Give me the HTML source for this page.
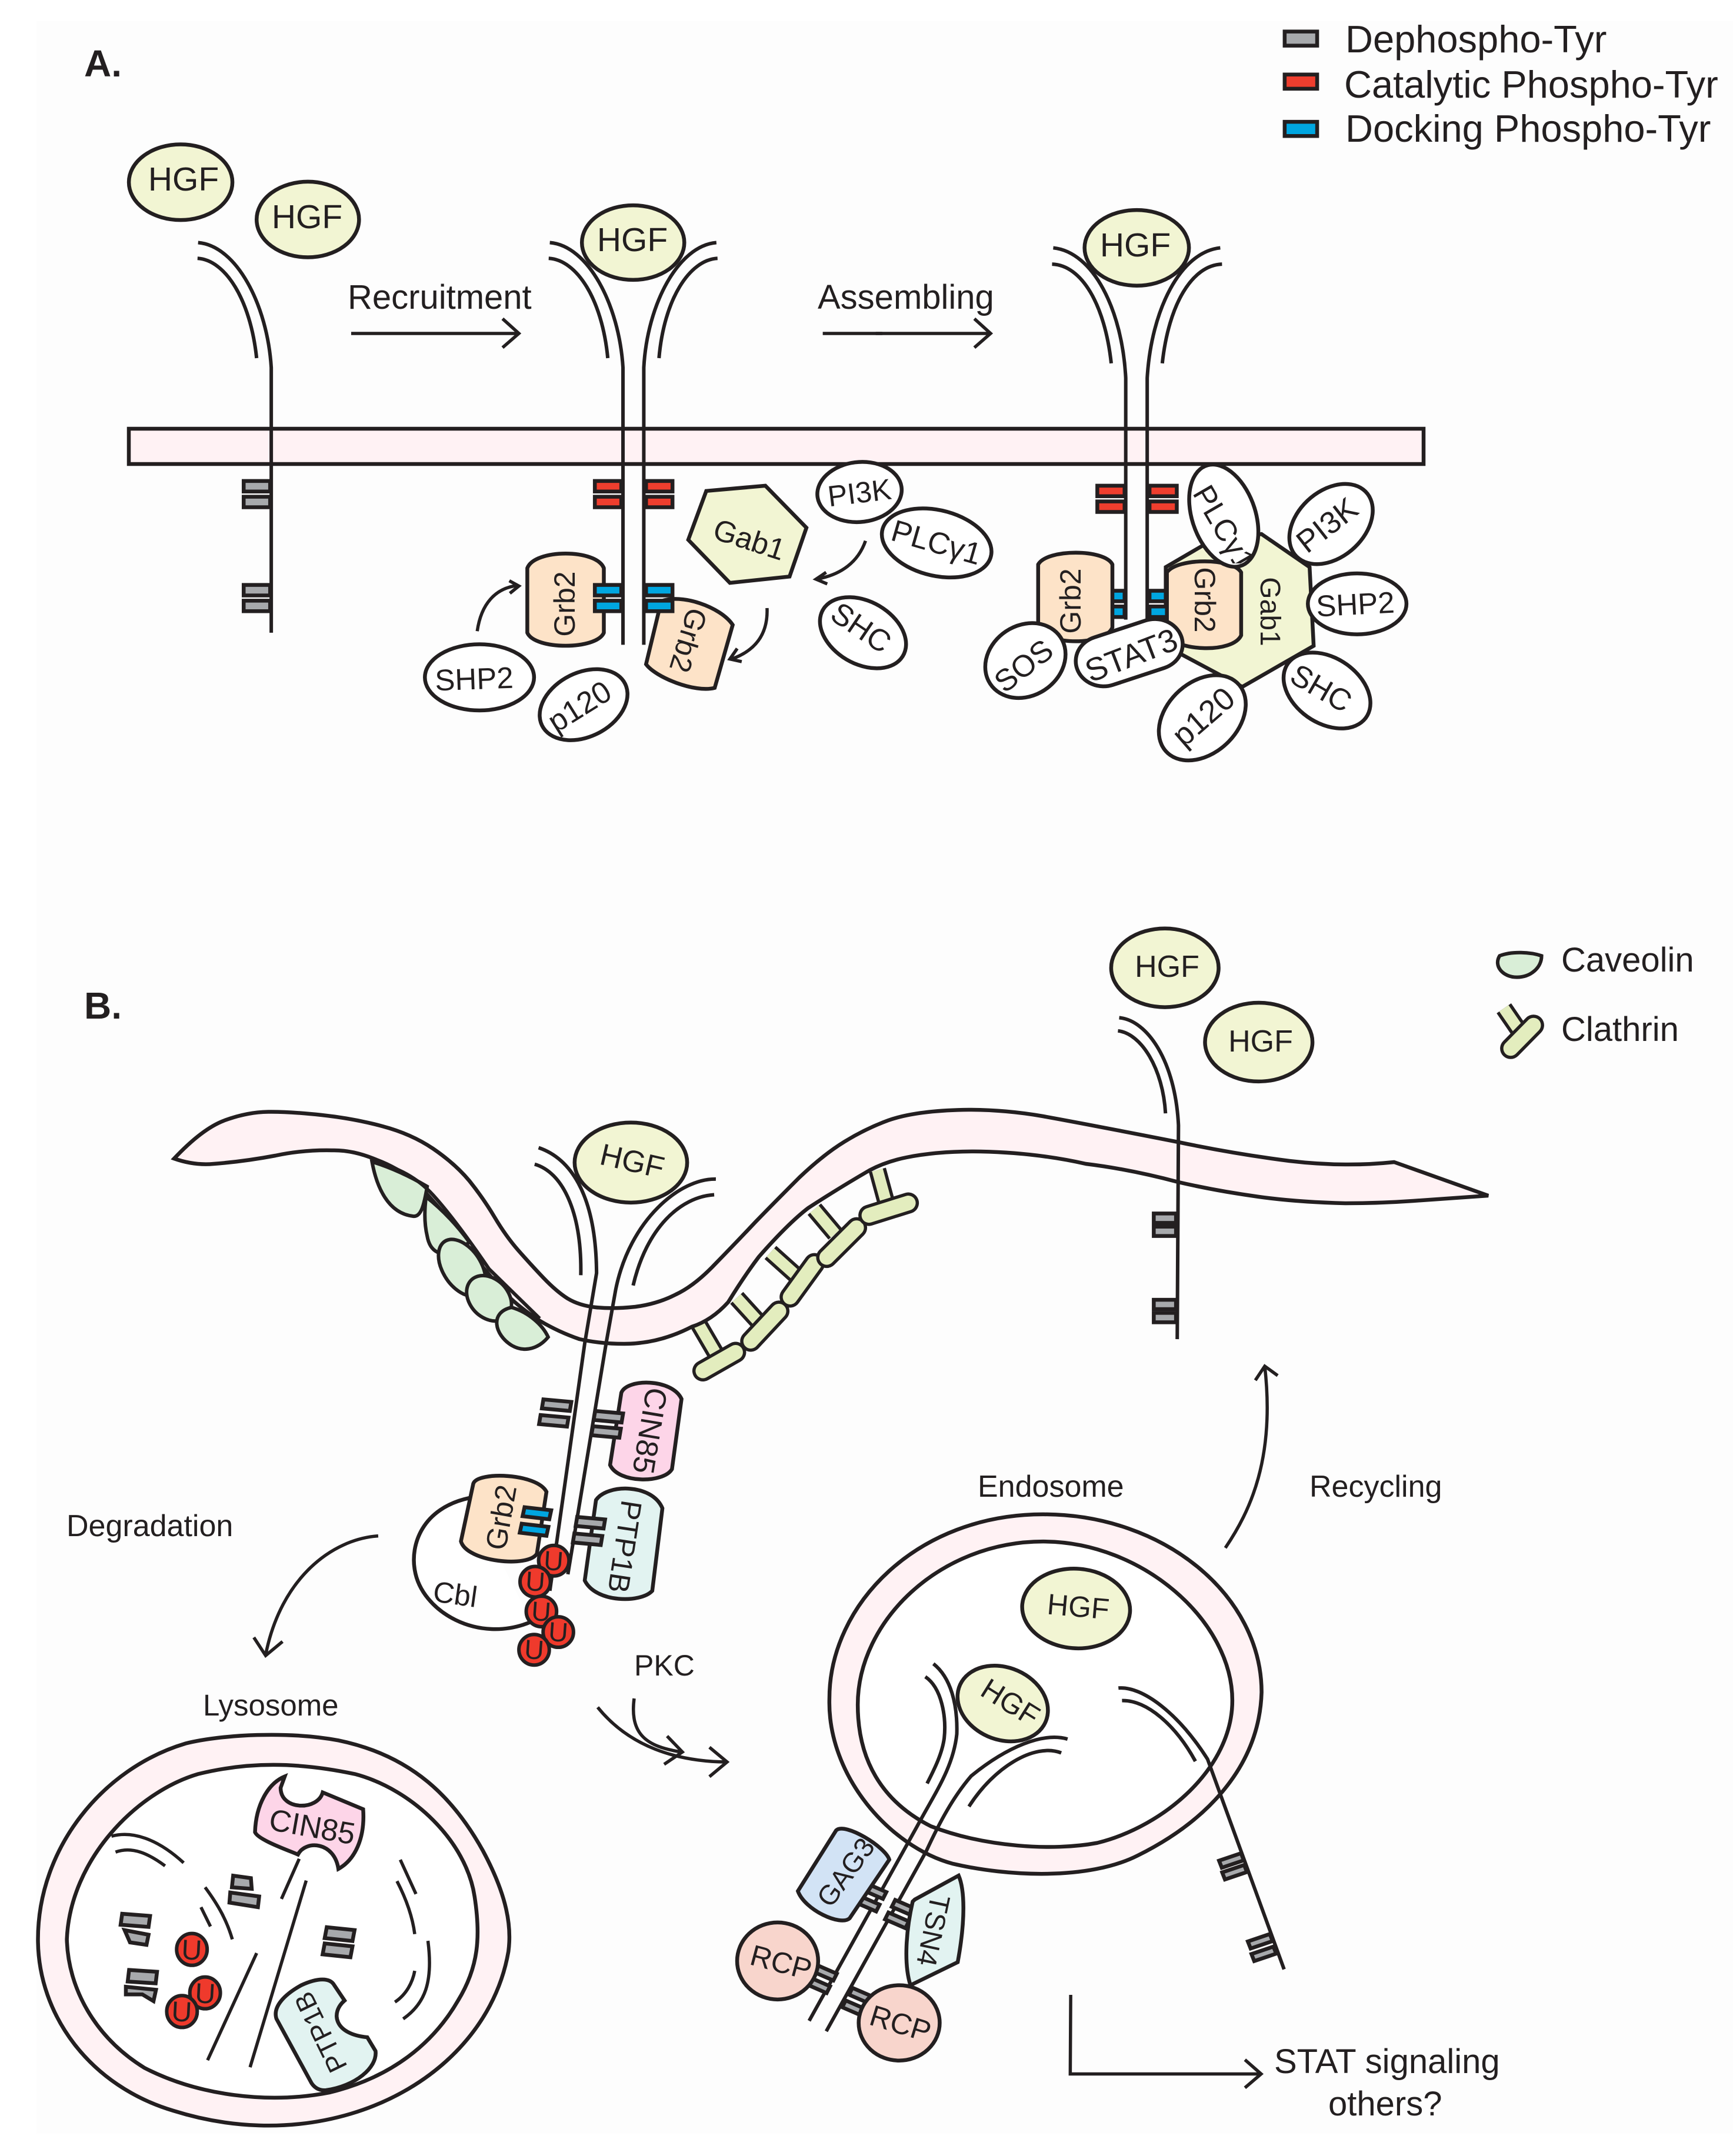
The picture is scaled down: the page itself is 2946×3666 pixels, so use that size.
<!DOCTYPE html>
<html><head><meta charset="utf-8"><style>
html,body{margin:0;padding:0;background:#fff}
svg{display:block;font-family:"Liberation Sans",Arial,sans-serif}
svg *{vector-effect:non-scaling-stroke}
text{fill:#231f20;text-anchor:middle}
.l{text-anchor:start}
.n{fill:none;stroke:#231f20;stroke-width:6}
.a{fill:none;stroke:#231f20;stroke-width:5.5}
.h{fill:#f2f5d3;stroke:#231f20;stroke-width:6.5}
.w{fill:#fff;stroke:#231f20;stroke-width:6.5}
.g2{fill:#fde3c8;stroke:#231f20;stroke-width:6.5}
.m{fill:#fff2f4;stroke:#231f20;stroke-width:6.5}
.gy{fill:#a7a9ac;stroke:#231f20;stroke-width:6.5}
.rd{fill:#ef3e2e;stroke:#231f20;stroke-width:6.5}
.bl{fill:#00a6e0;stroke:#231f20;stroke-width:6.5}
.u{fill:#ef3a2c;stroke:#231f20;stroke-width:6}
.cv{fill:#d9eed7;stroke:#231f20;stroke-width:6}
.pb{fill:none;stroke:#231f20;stroke-width:36;stroke-linecap:round}
.pf{fill:none;stroke:#e3edbe;stroke-width:25;stroke-linecap:round}
.sb{fill:none;stroke:#231f20;stroke-width:30}
.sf{fill:none;stroke:#e3edbe;stroke-width:19}
.ci{fill:#fdd5e8;stroke:#231f20;stroke-width:6.5}
.pt{fill:#e2f3f1;stroke:#231f20;stroke-width:6.5}
.ga{fill:#d2e3f5;stroke:#231f20;stroke-width:6.5}
.rc{fill:#f8d5cc;stroke:#231f20;stroke-width:6.5}
</style></head><body>
<svg xmlns="http://www.w3.org/2000/svg" width="2946" height="3666" viewBox="0 0 2946 3666">
<defs><clipPath id="pc"><rect x="1990" y="780" width="220" height="178"/></clipPath></defs>
<rect width="2946" height="3666" fill="#fff"/>
<rect x="62" y="36" width="2884" height="3592" fill="#fdfdfd"/>

<!-- A membrane -->
<rect x="219" y="729" width="2201" height="60" class="m"/>

<!-- Z1 group -->
<g transform="translate(0 0) scale(0.95666 0.89286)">
<path class="n" d="M352 462C420 468 475 580 482 700L482 1205"/>
<path class="n" d="M351 492C400 495 445 570 456 682"/>
<path class="n" d="M977 462C1045 468 1100 580 1107 700L1107 1228"/>
<path class="n" d="M975 492C1025 495 1070 570 1080 682"/>
<path class="n" d="M1273 462C1205 468 1150 580 1144 700L1144 1228"/>
<path class="n" d="M1275 492C1225 495 1180 570 1171 682"/>
<ellipse class="h" cx="321" cy="347" rx="92" ry="72"/>
<ellipse class="h" cx="547" cy="418" rx="91" ry="72"/>
<ellipse class="h" cx="1125" cy="462" rx="91" ry="71"/>
<rect class="gy" x="433" y="916" width="47" height="20"/><rect class="gy" x="433" y="946" width="47" height="20"/>
<rect class="gy" x="433" y="1114" width="47" height="20"/><rect class="gy" x="433" y="1144" width="47" height="20"/>
<rect class="rd" x="1057" y="916" width="47" height="20"/><rect class="rd" x="1057" y="946" width="47" height="20"/>
<rect class="rd" x="1148" y="916" width="47" height="20"/><rect class="rd" x="1148" y="946" width="47" height="20"/>
<path class="g2" d="M937 1082C950 1045 1060 1045 1073 1082L1073 1205C1060 1238 950 1238 937 1205Z"/>
<path class="g2" d="M1175 1145C1210 1130 1280 1155 1302 1190L1270 1310C1235 1320 1165 1290 1148 1265Z"/>
<rect class="bl" x="1057" y="1114" width="47" height="20"/><rect class="bl" x="1057" y="1144" width="47" height="20"/>
<rect class="bl" x="1148" y="1114" width="47" height="20"/><rect class="bl" x="1148" y="1144" width="47" height="20"/>
<ellipse class="w" cx="852" cy="1290" rx="97" ry="63"/>
<ellipse class="w" cx="1037" cy="1342" rx="84" ry="60" transform="rotate(-32 1037 1342)"/>
<polygon class="h" points="1255,935 1360,925 1433,1005 1403,1098 1297,1110 1223,1028"/>
<path class="a" d="M848 1202C855 1150 880 1120 920 1115"/><path class="a" d="M905 1106L922 1116L906 1130"/>
<path class="a" d="M1363 1158C1365 1210 1340 1240 1300 1255"/><path class="a" d="M1310 1235L1297 1255L1318 1260"/>
<path class="a" d="M1538 1030C1525 1070 1495 1095 1450 1103"/><path class="a" d="M1468 1090L1450 1103L1470 1112"/>
<path class="a" d="M624 635L922 635M893 607L922 635L893 662"/>
<path class="a" d="M1462 635L1568 635"/>
</g>

<!-- Z2 group -->
<g transform="translate(1400 0) scale(0.98597 0.89286)">
<rect class="gy" x="795" y="60" width="56" height="27"/>
<rect class="rd" x="795" y="142" width="56" height="27"/>
<rect class="bl" x="795" y="232" width="56" height="27"/>
<path class="a" d="M90 635L288 635M260 607L288 635L260 662"/>
<path class="n" d="M396 472C465 480 515 590 521 720L521 1180"/>
<path class="n" d="M394 503C445 505 485 580 496 692"/>
<path class="n" d="M684 472C615 480 565 590 558 720L558 1180"/>
<path class="n" d="M687 503C635 505 595 580 584 692"/>
<ellipse class="h" cx="540" cy="472" rx="90" ry="72"/>
<rect class="rd" x="472" y="925" width="47" height="20"/><rect class="rd" x="472" y="955" width="47" height="20"/>
<rect class="rd" x="562" y="925" width="47" height="20"/><rect class="rd" x="562" y="955" width="47" height="20"/>
<rect class="bl" x="472" y="1125" width="47" height="20"/><rect class="bl" x="472" y="1155" width="47" height="20"/>
<rect class="bl" x="562" y="1125" width="47" height="20"/><rect class="bl" x="562" y="1155" width="47" height="20"/>
<ellipse class="w" cx="62" cy="937" rx="73" ry="57" transform="rotate(-8 62 937)"/>
<ellipse class="w" cx="195" cy="1034" rx="97" ry="62" transform="rotate(17 195 1034)"/>
<ellipse class="w" cx="68" cy="1205" rx="82" ry="58" transform="rotate(37 68 1205)"/>
<polygon class="h" points="590,1080 660,1035 755,1017 838,1080 845,1230 722,1308 615,1245 590,1150"/>
<path class="g2" d="M370 1075C385 1045 485 1045 498 1075L498 1195C485 1230 385 1230 370 1195Z"/>
<path class="g2" d="M592 1090C610 1062 705 1062 720 1090L720 1210C705 1245 610 1240 592 1210Z"/>
<ellipse class="w" cx="690" cy="982" rx="55" ry="100" transform="rotate(-16 690 982)"/>
<ellipse class="w" cx="875" cy="998" rx="86" ry="60" transform="rotate(-50 875 998)"/>
<ellipse class="w" cx="920" cy="1150" rx="85" ry="58"/>
<ellipse class="w" cx="868" cy="1315" rx="85" ry="60" transform="rotate(42 868 1315)"/>
<ellipse class="w" cx="653" cy="1367" rx="90" ry="64" transform="rotate(-52 653 1367)"/>
<ellipse class="w" cx="348" cy="1258" rx="76" ry="64" transform="rotate(-50 348 1258)"/>
<rect class="w" x="432" y="1195" width="190" height="96" rx="48" ry="48" transform="rotate(-20 527 1243)"/>
</g>

<!-- B stems under membrane -->
<g transform="translate(200 1800) scale(0.95666 0.70151)">
<path class="sb" d="M1033 645L1063 715M1100 580L1140 640M1160 470L1205 525M1238 365L1275 425M1350 270L1365 345"/>
<path class="sf" d="M1033 645L1063 715M1100 580L1140 640M1160 470L1205 525M1238 365L1275 425M1350 270L1365 345"/>
</g>

<!-- B membrane -->
<path class="m" d="M296 1970Q344 1919 382 1905Q420 1891 456 1890.5Q492 1890 547 1896Q602 1902 650 1915Q699 1928 736 1953Q774 1979 798 2008Q822 2038 841 2070Q860 2102 881 2126Q903 2151 924 2173Q946 2196 965 2208Q985 2220 1013 2223Q1042 2226 1080 2222Q1118 2217 1149 2201Q1181 2186 1216 2149Q1252 2112 1285 2077Q1319 2042 1359 2002Q1400 1963 1436 1941Q1472 1919 1510 1905Q1558 1888 1647 1887Q1710 1887 1773 1898Q1850 1912 2003 1942Q2098 1962 2192 1974Q2285 1985 2370 1976L2530 2033L2402 2042Q2345 2046 2287 2046Q2205 2044 2140 2035Q2068 2025 2003 2010Q1920 1988 1846 1979Q1762 1960 1667 1958Q1596 1957 1541 1968Q1506 1975 1478 1990Q1423 2022 1374 2054Q1340 2080 1290 2137Q1265 2170 1238 2214Q1210 2245 1176 2256Q1120 2285 1061 2285Q1020 2285 985 2277Q950 2265 918 2246Q885 2225 860 2200Q835 2172 812 2144Q788 2110 764 2074Q735 2040 707 2010Q675 1985 640 1972Q600 1955 564 1956Q515 1955 468 1965Q415 1975 363 1979Q330 1982 296 1970Z"/>

<!-- Z3 group -->
<g transform="translate(200 1800) scale(0.95666 0.70151)">
<path class="cv" d="M452 250Q500 270 550 310C545 350 540 385 525 382C480 375 460 310 452 250Z"/>
<path class="cv" d="M548 335Q590 380 625 445L600 470C575 480 555 470 550 430Q543 390 548 335Z"/>
<ellipse class="cv" cx="612" cy="507" rx="36" ry="72" transform="rotate(-20 612 507)"/>
<ellipse class="cv" cx="660" cy="581" rx="37" ry="57" transform="rotate(-20 660 581)"/>
<path class="cv" d="M700 603C730 615 755 645 765 675C750 700 725 715 700 695C670 670 660 615 700 603Z"/>
<path class="n" d="M455 250Q520 270 560 330T660 510L750 630"/>
<path class="pb" d="M1040 757L1098 712"/><path class="pf" d="M1040 757L1098 712"/>
<path class="pb" d="M1125 685L1175 612"/><path class="pf" d="M1125 685L1175 612"/>
<path class="pb" d="M1195 578L1238 497"/><path class="pf" d="M1195 578L1238 497"/>
<path class="pb" d="M1260 482L1313 410"/><path class="pf" d="M1260 482L1313 410"/>
<path class="pb" d="M1335 380L1405 350"/><path class="pf" d="M1335 380L1405 350"/>
<path class="n" d="M748 216C800 240 850 320 851 520L830 690L768 1290"/>
<path class="n" d="M741 256C790 275 825 370 823 525"/>
<path class="n" d="M1063 292C1000 290 910 390 885 560L868 690L800 1250"/>
<path class="n" d="M1060 330C1000 335 940 410 916 550"/>
<ellipse class="h" cx="912" cy="252" rx="100" ry="97"/>
<path class="ci" d="M895 810C905 775 985 775 1002 825L985 995C970 1030 890 1030 875 985Z"/>
<path class="pt" d="M850 1070C870 1030 950 1030 968 1090L950 1290C930 1320 850 1320 830 1265Z"/>
<path class="w" d="M625 1065C540 1090 520 1180 528 1240C540 1340 640 1420 735 1365"/>
<path class="g2" d="M632 1030C640 1000 745 1005 762 1050L745 1200C730 1235 620 1220 610 1170Z"/>
<rect class="gy" x="755" y="829" width="50" height="22" transform="rotate(7 780 840)"/>
<rect class="gy" x="750" y="867" width="50" height="22" transform="rotate(7 775 878)"/>
<rect class="gy" x="847" y="857" width="50" height="22" transform="rotate(7 872 868)"/>
<rect class="gy" x="843" y="894" width="50" height="22" transform="rotate(7 868 905)"/>
<rect class="bl" x="721" y="1091" width="48" height="22" transform="rotate(9 745 1102)"/>
<rect class="bl" x="716" y="1131" width="48" height="22" transform="rotate(9 740 1142)"/>
<rect class="gy" x="815" y="1114" width="50" height="22" transform="rotate(7 840 1125)"/>
<rect class="gy" x="810" y="1154" width="50" height="22" transform="rotate(7 835 1165)"/>
<ellipse class="u" cx="775" cy="1217" rx="27" ry="37"/>
<ellipse class="u" cx="742" cy="1268" rx="27" ry="37"/>
<ellipse class="u" cx="753" cy="1340" rx="27" ry="37"/>
<ellipse class="u" cx="783" cy="1390" rx="27" ry="37"/>
<ellipse class="u" cx="740" cy="1433" rx="27" ry="37"/>
<path class="a" d="M463 1157C380 1165 290 1260 263 1445"/>
<path class="a" d="M242 1403L263 1447L293 1413"/>
</g>

<!-- Z4 group -->
<g transform="translate(1300 1550) scale(1.04975 0.63776)">
<path class="n" d="M574 283C620 290 665 400 670 570L668 1140"/>
<path class="n" d="M572 318C610 325 645 420 649 538"/>
<ellipse class="h" cx="648" cy="150" rx="87" ry="105"/>
<ellipse class="h" cx="800" cy="348" rx="87" ry="105"/>
<rect class="gy" x="630" y="805" width="36" height="25"/><rect class="gy" x="630" y="840" width="36" height="25"/>
<rect class="gy" x="630" y="1035" width="36" height="25"/><rect class="gy" x="630" y="1070" width="36" height="25"/>
<path class="cv" d="M1190 118C1210 105 1240 108 1258 118C1258 150 1240 175 1218 175C1195 175 1180 145 1190 118Z"/>
<path class="sb" d="M1197 258L1222 318"/><path class="sf" d="M1197 258L1222 318"/>
<path class="pb" d="M1208 365L1245 303"/><path class="pf" d="M1208 365L1245 303"/>
</g>

<path class="a" d="M2083 2632C2125 2570 2168 2480 2150 2323"/>
<path class="a" d="M2134 2347L2150 2323L2172 2339"/>
<path class="a" d="M1016 2903C1070 2970 1150 2995 1234 2996"/>
<path class="a" d="M1078 2888C1070 2950 1100 2970 1158 2979"/>
<path class="a" d="M1134 2952L1160 2979L1129 3000"/>
<path class="a" d="M1206 2971L1236 2996L1206 3021"/>

<!-- Z6 group -->
<g transform="translate(1100 2550) scale(0.76529 0.71174)">
<path class="m" d="M405 475C405 250 600 35 880 35C1150 35 1365 230 1365 460C1360 640 1240 770 1090 850C980 910 800 900 680 870C540 830 400 660 405 475Z"/>
<path class="w" d="M468 490C468 290 650 100 880 100C1100 100 1300 290 1300 480C1300 640 1150 780 1000 820C900 840 750 830 630 780C520 720 468 620 468 490Z"/>
<ellipse class="h" cx="953" cy="260" rx="120" ry="95" transform="rotate(5 953 260)"/>
<path class="n" d="M636 392C675 425 690 490 688 560C680 640 640 700 600 780L360 1245"/>
<path class="n" d="M618 423C655 450 665 520 660 570C655 610 635 650 622 678"/>
<path class="n" d="M934 572C880 555 800 590 720 660C680 710 650 770 620 840L398 1270"/>
<path class="n" d="M920 605C860 580 770 640 715 733"/>
<path class="n" d="M1047 450C1100 445 1180 510 1245 620L1415 1122"/>
<path class="n" d="M1055 480C1110 478 1175 540 1218 625"/>
<ellipse class="h" cx="790" cy="487" rx="105" ry="85" transform="rotate(30 790 487)"/>
<rect class="gy" x="1272" y="853" width="52" height="18" transform="rotate(-20 1298 862)"/>
<rect class="gy" x="1279" y="881" width="52" height="18" transform="rotate(-20 1305 890)"/>
<rect class="gy" x="1336" y="1046" width="52" height="18" transform="rotate(-20 1362 1055)"/>
<rect class="gy" x="1344" y="1076" width="52" height="18" transform="rotate(-20 1370 1085)"/>
<rect class="gy" x="480" y="926" width="50" height="18" transform="rotate(25 505 935)"/>
<rect class="gy" x="465" y="956" width="50" height="18" transform="rotate(25 490 965)"/>
<rect class="gy" x="545" y="966" width="50" height="18" transform="rotate(25 570 975)"/>
<rect class="gy" x="530" y="996" width="50" height="18" transform="rotate(25 555 1005)"/>
<rect class="gy" x="370" y="1121" width="50" height="18" transform="rotate(25 395 1130)"/>
<rect class="gy" x="355" y="1151" width="50" height="18" transform="rotate(25 380 1160)"/>
<rect class="gy" x="450" y="1176" width="50" height="18" transform="rotate(25 475 1185)"/>
<rect class="gy" x="435" y="1206" width="50" height="18" transform="rotate(25 460 1215)"/>
<path class="ga" d="M420 790C440 770 530 830 538 860L450 1000C430 1020 350 980 335 935Z"/>
<path class="pt" d="M595 955L692 898C705 930 708 1000 690 1105L585 1160C570 1110 575 1030 590 960Z"/>
<ellipse class="rc" cx="290" cy="1102" rx="90" ry="92"/>
<ellipse class="rc" cx="560" cy="1250" rx="90" ry="90"/>
<path class="a" d="M941 1183L940 1372L1362 1372M1328 1338L1364 1372L1328 1405"/>
</g>

<!-- Z5 group -->
<g transform="translate(0 2850) scale(0.70151 0.52041)">
<path class="m" d="M92 860C92 560 250 300 450 220C540 190 700 180 820 210C1000 260 1100 400 1170 570C1230 720 1240 820 1232 900C1200 1150 1050 1350 850 1430C700 1490 550 1475 420 1420C220 1340 92 1110 92 860Z"/>
<path class="w" d="M162 860C170 600 330 380 480 320C600 280 720 280 860 320C1000 370 1130 540 1150 720C1165 850 1160 950 1110 1060C1050 1200 950 1310 800 1360C650 1400 480 1370 350 1280C230 1180 165 1020 162 860Z"/>
<path class="a" d="M270 523C320 505 380 530 445 610M280 575C320 555 360 580 400 620M497 690C530 750 550 800 563 860M487 755L510 818M622 905L503 1255M742 668L606 1278M725 597L682 728M970 600L1008 712M962 670C985 730 1000 790 1005 843M1037 865C1050 1000 1030 1070 977 1120M1005 963C1000 1000 985 1040 957 1065"/>
<rect class="gy" x="294" y="780" width="68" height="36" transform="rotate(6 328 798)"/>
<polygon class="gy" points="302,830 360,845 355,878 315,870"/>
<rect class="gy" x="311" y="963" width="68" height="38" transform="rotate(5 345 982)"/>
<polygon class="gy" points="305,1015 378,1025 372,1062 345,1040 305,1040"/>
<polygon class="gy" points="565,652 608,660 610,695 562,690"/>
<polygon class="gy" points="558,707 628,720 625,755 556,740"/>
<rect class="gy" x="789" y="825" width="68" height="36" transform="rotate(8 823 843)"/>
<rect class="gy" x="784" y="878" width="68" height="36" transform="rotate(8 818 896)"/>
<ellipse class="u" cx="465" cy="893" rx="37" ry="52"/>
<ellipse class="u" cx="497" cy="1035" rx="37" ry="52"/>
<ellipse class="u" cx="441" cy="1096" rx="37" ry="52"/>
<path class="ci" d="M690 328C650 350 620 420 618 510C625 535 700 570 722 583C740 535 810 540 820 630C860 600 885 530 880 435L782 380C770 440 680 440 680 365Z"/>
<path class="pt" d="M730 1010C770 985 800 985 810 1010L835 1060C800 1100 810 1170 890 1180L910 1225C915 1280 860 1340 790 1353C770 1355 760 1340 755 1330L670 1120C660 1080 690 1040 730 1010Z"/>
</g>

<!-- Text: section A -->
<text class="l" x="143" y="130" font-size="64" font-weight="bold">A.</text>
<text x="312" y="324" font-size="57">HGF</text>
<text x="522" y="388" font-size="57">HGF</text>
<text x="1075" y="427" font-size="57">HGF</text>
<text x="1930" y="436" font-size="57">HGF</text>
<text class="l" x="591" y="525" font-size="58">Recruitment</text>
<text class="l" x="1390" y="525" font-size="58">Assembling</text>
<text class="l" x="2287" y="89" font-size="65">Dephospho-Tyr</text>
<text class="l" x="2285" y="166" font-size="65">Catalytic Phospho-Tyr</text>
<text class="l" x="2287" y="241" font-size="65">Docking Phospho-Tyr</text>
<text transform="translate(959 1027) rotate(-90)" y="18" font-size="50">Grb2</text>
<text transform="translate(1171 1089) rotate(107)" y="18" font-size="50">Grb2</text>
<text transform="translate(806 1154) rotate(-2)" y="18" font-size="51">SHP2</text>
<text transform="translate(985 1201) rotate(-32)" y="18" font-size="52">p120</text>
<text transform="translate(1274 917) rotate(18)" y="18" font-size="51">Gab1</text>
<text transform="translate(1461 837) rotate(-7)" y="18" font-size="50">PI3K</text>
<text transform="translate(1592 922) rotate(16)" y="18" font-size="52">PLCγ1</text>
<text transform="translate(1464 1067) rotate(34)" y="18" font-size="52">SHC</text>
<text transform="translate(1819 1022) rotate(-90)" y="18" font-size="50">Grb2</text>
<text transform="translate(2049 1020) rotate(90)" y="18" font-size="50">Grb2</text>
<text transform="translate(2161 1040) rotate(90)" y="18" font-size="48">Gab1</text>
<g clip-path="url(#pc)"><text transform="translate(2081 897) rotate(60)" y="18" font-size="52">PLCγ1</text></g>
<text transform="translate(2256 893) rotate(-38)" y="18" font-size="53">PI3K</text>
<text transform="translate(2304 1027) rotate(-3)" y="18" font-size="51">SHP2</text>
<text transform="translate(2246 1170) rotate(30)" y="18" font-size="52">SHC</text>
<text transform="translate(2046 1219) rotate(-41)" y="18" font-size="54">p120</text>
<text transform="translate(1740 1132) rotate(-38)" y="18" font-size="52">SOS</text>
<text transform="translate(1923 1114) rotate(-21)" y="19" font-size="55">STAT3</text>

<!-- Text: section B -->
<text class="l" x="143" y="1732" font-size="64" font-weight="bold">B.</text>
<text transform="translate(1075 1973) rotate(13)" y="19" font-size="52">HGF</text>
<text transform="translate(1984 1642)" y="19" font-size="52">HGF</text>
<text transform="translate(2143 1769)" y="19" font-size="52">HGF</text>
<text class="l" x="2654" y="1652" font-size="58">Caveolin</text>
<text class="l" x="2654" y="1770" font-size="58">Clathrin</text>
<text transform="translate(1106 2433) rotate(99.5)" y="19" font-size="52">CIN85</text>
<text transform="translate(1063 2630) rotate(98.7)" y="18" font-size="50">PTP1B</text>
<text transform="translate(851 2580) rotate(-80)" y="18" font-size="50">Grb2</text>
<text transform="translate(774 2710) rotate(8)" y="18" font-size="50">Cbl</text>
<text transform="translate(941 2654) rotate(4)" y="16" font-size="46">U</text>
<text transform="translate(910 2689) rotate(4)" y="16" font-size="46">U</text>
<text transform="translate(920 2740) rotate(4)" y="16" font-size="46">U</text>
<text transform="translate(949 2775) rotate(4)" y="16" font-size="46">U</text>
<text transform="translate(908 2805) rotate(4)" y="16" font-size="46">U</text>
<text class="l" x="113" y="2612" font-size="52">Degradation</text>
<text class="l" x="1078" y="2849" font-size="50">PKC</text>
<text class="l" x="1662" y="2545" font-size="52">Endosome</text>
<text class="l" x="2226" y="2545" font-size="52">Recycling</text>
<text class="l" x="345" y="2917" font-size="51">Lysosome</text>
<text transform="translate(1833 2731) rotate(5)" y="18" font-size="50">HGF</text>
<text transform="translate(1718 2894) rotate(32)" y="18" font-size="50">HGF</text>
<text transform="translate(1437 3183) rotate(-54)" y="17" font-size="47">GAG3</text>
<text transform="translate(1588 3283) rotate(102)" y="18" font-size="48">TSN4</text>
<text transform="translate(1328 3336) rotate(15)" y="18" font-size="50">RCP</text>
<text transform="translate(1531 3440) rotate(17)" y="18" font-size="50">RCP</text>
<text class="l" x="2166" y="3525" font-size="58">STAT signaling</text>
<text class="l" x="2258" y="3597" font-size="58">others?</text>
<text transform="translate(326 3315) rotate(3)" y="17" font-size="48">U</text>
<text transform="translate(349 3389) rotate(3)" y="17" font-size="48">U</text>
<text transform="translate(309 3420) rotate(3)" y="17" font-size="48">U</text>
<text transform="translate(531 3105) rotate(10)" y="19" font-size="52">CIN85</text>
<text transform="translate(544 3456) rotate(-116)" y="17" font-size="46">PTP1B</text>
</svg>
</body></html>
